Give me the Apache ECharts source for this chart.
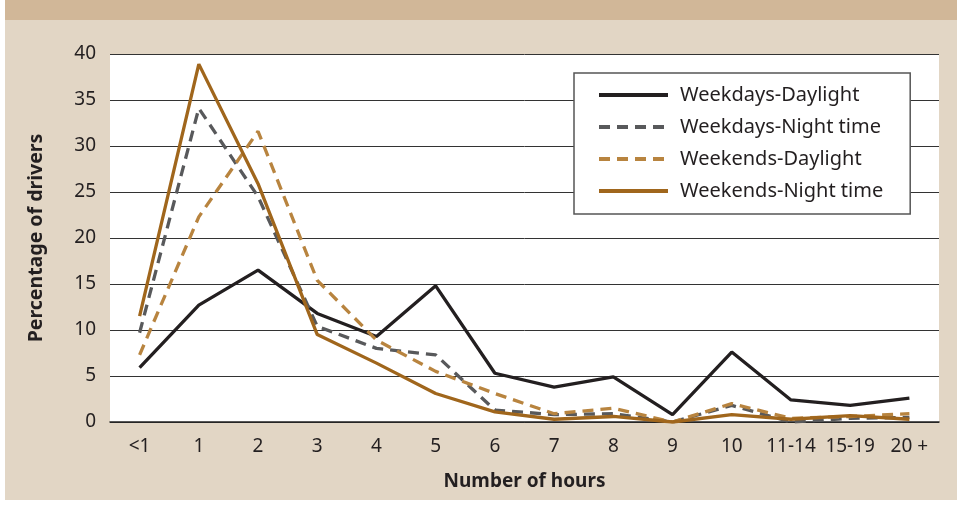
<!DOCTYPE html>
<html>
<head>
<meta charset="utf-8">
<script src="https://cdn.jsdelivr.net/npm/echarts@6/dist/echarts.min.js"></script>
<style>
  html, body { margin: 0; padding: 0; background: #fff; }
  #chart { width: 957px; height: 505px; }
</style>
</head>
<body>
<div id="chart"></div>
<script>
// hours categories
const hours = ['<1', '1', '2', '3', '4', '5', '6', '7', '8', '9', '10', '11-14', '15-19', '20 +']

// percentage of drivers
const weekdaysDaylight = [5.9, 12.7, 16.5, 11.8, 9.3, 14.8, 5.3, 3.8, 4.9, 0.8, 7.6, 2.4, 1.8, 2.6]
const weekdaysNight = [9.7, 34.1, 24.5, 10.4, 8.0, 7.3, 1.3, 0.8, 0.9, 0.0, 1.8, 0.0, 0.4, 0.5]
const weekendsDaylight = [7.3, 22.3, 31.6, 15.4, 8.9, 5.5, 3.1, 0.9, 1.5, 0.0, 2.0, 0.4, 0.6, 0.9]
const weekendsNight = [11.5, 38.9, 25.9, 9.5, 6.4, 3.1, 1.1, 0.3, 0.6, 0.0, 0.8, 0.3, 0.7, 0.3]

const yTicks = [0, 5, 10, 15, 20, 25, 30, 35, 40]

const FONT = 'Noto Sans'
const TEXT = '#231f20'

function makeSeries(name, data, color, dashed) {
  return {
    name,
    data,
    type: 'line',
    symbol: 'none',
    lineStyle: {
      color,
      width: 3.3,
      type: dashed ? [11, 7] : 'solid'
    },
    itemStyle: { color }
  }
}

const chart = echarts.init(document.getElementById('chart'))

const option = {
  backgroundColor: '#e2d6c5',
  animation: false,
  textStyle: { fontFamily: FONT },
  graphic: [
    // white page strips
    { type: 'rect', left: 0, top: 0, shape: { width: 5, height: 505 }, style: { fill: '#fff' } },
    { type: 'rect', left: 0, top: 500, shape: { width: 957, height: 5 }, style: { fill: '#fff' } },
    // title band
    { type: 'rect', left: 5, top: 0, shape: { width: 952, height: 20 }, style: { fill: '#d1b798' } }
  ],
  grid: {
    left: 110,
    right: 18,
    top: 54,
    bottom: 83,
    show: true,
    backgroundColor: '#fff',
    borderWidth: 0
  },
  legend: {
    left: 574,
    top: 73,
    orient: 'vertical',
    backgroundColor: '#fff',
    borderColor: '#555',
    borderWidth: 1.5,
    borderRadius: 0,
    padding: [11, 27, 12, 23],
    itemWidth: 69,
    itemHeight: 14,
    itemGap: 10,
    itemStyle: { opacity: 0 },
    lineStyle: { width: 4 },
    textStyle: {
      fontFamily: FONT,
      fontSize: 20,
      color: TEXT,
      lineHeight: 22,
      padding: [0, 0, 0, 7]
    },
    data: ['Weekdays-Daylight', 'Weekdays-Night time', 'Weekends-Daylight', 'Weekends-Night time']
  },
  xAxis: {
    type: 'category',
    data: hours,
    boundaryGap: true,
    name: 'Number of hours',
    nameLocation: 'middle',
    nameGap: 50,
    nameTextStyle: { fontFamily: FONT, fontSize: 19, fontWeight: 'bold', color: TEXT },
    axisLine: { lineStyle: { color: '#222', width: 1.5 } },
    axisTick: { inside: true, length: 9, interval: 0, lineStyle: { color: '#777', width: 1 } },
    axisLabel: { fontFamily: FONT, fontSize: 19, color: TEXT, margin: 15, interval: 0 }
  },
  yAxis: {
    type: 'value',
    min: yTicks[0],
    max: yTicks[yTicks.length - 1],
    interval: 5,
    name: 'Percentage of drivers',
    nameLocation: 'middle',
    nameRotate: 90,
    nameGap: 64,
    nameTextStyle: { fontFamily: FONT, fontSize: 19.5, fontWeight: 'bold', color: TEXT },
    axisLine: { show: false },
    axisTick: { show: false },
    axisLabel: { fontFamily: FONT, fontSize: 19, color: TEXT, margin: 14 },
    splitLine: { lineStyle: { color: '#333', width: 1 } }
  },
  series: [
    makeSeries('Weekdays-Daylight', weekdaysDaylight, '#231f20', false),
    makeSeries('Weekdays-Night time', weekdaysNight, '#58595b', true),
    makeSeries('Weekends-Daylight', weekendsDaylight, '#b8843f', true),
    makeSeries('Weekends-Night time', weekendsNight, '#a0661c', false)
  ]
}

chart.setOption(option)
</script>
</body>
</html>
